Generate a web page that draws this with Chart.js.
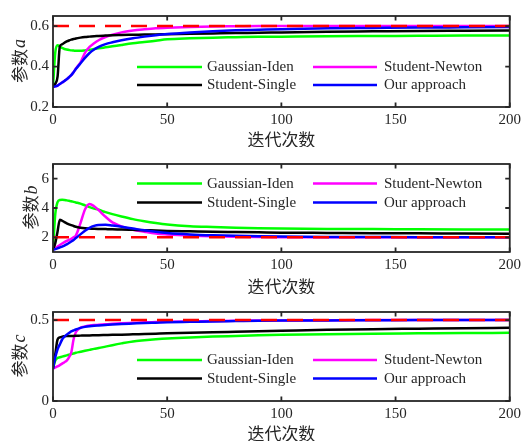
<!DOCTYPE html>
<html>
<head>
<meta charset="utf-8">
<script src="https://cdn.jsdelivr.net/npm/chart.js@4.4.1/dist/chart.umd.min.js"></script>
<style>
  html, body { margin: 0; padding: 0; background: #ffffff; }
  #wrap { position: relative; width: 525px; height: 441px; }
  .panel { position: absolute; left: 0; width: 525px; height: 147px; }
</style>
</head>
<body>
<div id="wrap">
  <div class="panel" style="top:0px"><canvas id="chartA" width="525" height="147"></canvas></div>
  <div class="panel" style="top:147px"><canvas id="chartB" width="525" height="147"></canvas></div>
  <div class="panel" style="top:294px"><canvas id="chartC" width="525" height="147"></canvas></div>
</div>
<script>
// Iteration numbers at which the estimates are listed
const iters = [0, 1, 2, 3, 4, 5, 6, 7, 8, 9, 10, 12, 14, 16, 18, 20, 23, 26, 30, 35, 40, 45, 50, 60, 70, 80, 90, 100, 120, 140, 160, 180, 200];

// Method names (legend order)
const methods = ['Gaussian-Iden', 'Student-Newton', 'Student-Single', 'Our approach'];

// Parameter a
const gaussA  = [0.30, 0.47, 0.505, 0.50, 0.492, 0.487, 0.484, 0.482, 0.480, 0.479, 0.478, 0.478, 0.480, 0.483, 0.487, 0.490, 0.495, 0.500, 0.507, 0.515, 0.521, 0.528, 0.535, 0.540, 0.543, 0.545, 0.547, 0.548, 0.550, 0.551, 0.552, 0.553, 0.553];
const newtonA = [0.30, 0.302, 0.306, 0.314, 0.321, 0.329, 0.337, 0.347, 0.358, 0.372, 0.390, 0.420, 0.468, 0.497, 0.515, 0.530, 0.546, 0.557, 0.569, 0.578, 0.584, 0.589, 0.592, 0.596, 0.598, 0.599, 0.600, 0.600, 0.601, 0.601, 0.601, 0.601, 0.601];
const singleA = [0.30, 0.315, 0.35, 0.50, 0.510, 0.518, 0.524, 0.529, 0.533, 0.536, 0.539, 0.543, 0.546, 0.548, 0.550, 0.551, 0.553, 0.555, 0.556, 0.557, 0.558, 0.559, 0.560, 0.562, 0.564, 0.566, 0.567, 0.569, 0.572, 0.574, 0.576, 0.577, 0.578];
const oursA   = [0.30, 0.302, 0.306, 0.314, 0.321, 0.329, 0.337, 0.347, 0.358, 0.372, 0.388, 0.415, 0.443, 0.467, 0.484, 0.497, 0.511, 0.520, 0.530, 0.540, 0.548, 0.555, 0.561, 0.569, 0.575, 0.579, 0.582, 0.585, 0.589, 0.591, 0.593, 0.594, 0.595];

// Parameter b
const gaussB  = [1.15, 3.6, 4.4, 4.55, 4.56, 4.55, 4.52, 4.49, 4.46, 4.42, 4.38, 4.30, 4.18, 4.06, 3.96, 3.88, 3.72, 3.58, 3.42, 3.24, 3.10, 2.98, 2.88, 2.76, 2.70, 2.65, 2.62, 2.60, 2.57, 2.56, 2.55, 2.54, 2.53];
const newtonB = [1.15, 1.26, 1.37, 1.48, 1.58, 1.67, 1.75, 1.82, 1.90, 2.00, 2.12, 2.95, 3.90, 4.27, 4.12, 3.85, 3.40, 3.02, 2.75, 2.52, 2.38, 2.26, 2.20, 2.12, 2.07, 2.04, 2.02, 2.01, 2.00, 2.00, 2.00, 2.00, 2.00];
const singleB = [1.15, 1.6, 2.4, 3.2, 3.13, 3.04, 2.96, 2.89, 2.83, 2.77, 2.72, 2.66, 2.62, 2.60, 2.58, 2.57, 2.56, 2.55, 2.53, 2.51, 2.49, 2.46, 2.44, 2.41, 2.38, 2.36, 2.34, 2.32, 2.30, 2.28, 2.27, 2.26, 2.25];
const oursB   = [1.15, 1.20, 1.25, 1.31, 1.37, 1.44, 1.52, 1.61, 1.71, 1.82, 1.95, 2.20, 2.45, 2.65, 2.78, 2.84, 2.85, 2.80, 2.72, 2.60, 2.48, 2.38, 2.30, 2.20, 2.14, 2.10, 2.07, 2.05, 2.03, 2.02, 2.01, 2.01, 2.00];

// Parameter c
const gaussC  = [0.20, 0.25, 0.266, 0.270, 0.274, 0.278, 0.282, 0.286, 0.290, 0.294, 0.298, 0.304, 0.310, 0.316, 0.322, 0.327, 0.336, 0.345, 0.356, 0.368, 0.375, 0.381, 0.386, 0.393, 0.398, 0.402, 0.406, 0.409, 0.413, 0.416, 0.418, 0.420, 0.421];
const newtonC = [0.20, 0.207, 0.214, 0.222, 0.231, 0.240, 0.250, 0.270, 0.300, 0.380, 0.425, 0.452, 0.461, 0.466, 0.469, 0.471, 0.474, 0.477, 0.480, 0.483, 0.486, 0.488, 0.490, 0.492, 0.494, 0.496, 0.497, 0.498, 0.499, 0.500, 0.500, 0.500, 0.500];
const singleC = [0.20, 0.29, 0.38, 0.393, 0.398, 0.400, 0.401, 0.401, 0.402, 0.402, 0.403, 0.404, 0.405, 0.405, 0.406, 0.407, 0.408, 0.409, 0.410, 0.412, 0.414, 0.416, 0.418, 0.421, 0.425, 0.428, 0.431, 0.434, 0.440, 0.444, 0.447, 0.450, 0.452];
const oursC   = [0.20, 0.27, 0.32, 0.35, 0.38, 0.397, 0.410, 0.420, 0.430, 0.436, 0.442, 0.452, 0.458, 0.462, 0.465, 0.467, 0.470, 0.473, 0.476, 0.479, 0.482, 0.484, 0.486, 0.489, 0.492, 0.494, 0.496, 0.497, 0.498, 0.499, 0.500, 0.500, 0.500];

// True parameter values (red dashed reference lines)
const trueA = 0.6, trueB = 2, trueC = 0.5;

// Axis ticks
const xTicks  = [0, 50, 100, 150, 200];
const yTicksA = [0.2, 0.4, 0.6];
const yTicksB = [2, 4, 6];
const yTicksC = [0, 0.5];

const SERIF = '"Liberation Serif", "Times New Roman", serif';
const CJK = '"Noto Sans CJK SC", "Noto Sans CJK JP", sans-serif';
const INK = '#262626';
const colors = ['#00FF00', '#FF00FF', '#000000', '#0000FF'];
const drawOrder = [4, 3, 2, 1]; // later series drawn above earlier ones

// Frame, inward tick marks, y-axis title and in-plot legend
const framePlugin = {
  id: 'framePlugin',
  afterDatasetsDraw(chart, args, opts) {
    const { ctx, chartArea: a, scales: { x, y } } = chart;
    ctx.save();
    ctx.strokeStyle = INK;
    ctx.lineWidth = 1.8;
    ctx.strokeRect(a.left, a.top, a.right - a.left, a.bottom - a.top);
    const len = 4.5;
    ctx.beginPath();
    x.ticks.forEach(t => {
      const px = x.getPixelForValue(t.value);
      ctx.moveTo(px, a.bottom); ctx.lineTo(px, a.bottom - len);
      ctx.moveTo(px, a.top); ctx.lineTo(px, a.top + len);
    });
    y.ticks.forEach(t => {
      const py = y.getPixelForValue(t.value);
      ctx.moveTo(a.left, py); ctx.lineTo(a.left + len, py);
      ctx.moveTo(a.right, py); ctx.lineTo(a.right - len, py);
    });
    ctx.stroke();

    // y-axis title: Chinese word plus italic symbol, rotated
    ctx.font = '15px ' + SERIF;
    let maxW = 0;
    y.ticks.forEach(t => { maxW = Math.max(maxW, ctx.measureText(t.label).width); });
    const cx = a.left - 4 - maxW - 10.5;
    const cy = (a.top + a.bottom) / 2;
    const f1 = '17px ' + CJK, f2 = 'italic 18px ' + SERIF;
    ctx.font = f1; const w1 = ctx.measureText(opts.yWord).width;
    ctx.font = f2; const w2 = ctx.measureText(opts.ySymbol).width;
    ctx.translate(cx, cy);
    ctx.rotate(-Math.PI / 2);
    ctx.fillStyle = INK;
    ctx.textBaseline = 'middle';
    ctx.textAlign = 'left';
    ctx.font = f1; ctx.fillText(opts.yWord, -(w1 + w2) / 2, 0);
    ctx.font = f2; ctx.fillText(opts.ySymbol, -(w1 + w2) / 2 + w1 + 1, 1);
    ctx.setTransform(1, 0, 0, 1, 0, 0);

    // legend: two columns, two rows
    const cols = [{ x0: 137, x1: 202, tx: 207 }, { x0: 313, x1: 377, tx: 384 }];
    ctx.font = '15px ' + SERIF;
    ctx.textBaseline = 'middle';
    ctx.lineWidth = 2.5;
    const series = chart.data.datasets.filter(d => d.inLegend);
    series.forEach((d, i) => {
      const c = cols[i % 2], ry = opts.rows[Math.floor(i / 2)];
      ctx.strokeStyle = d.borderColor;
      ctx.beginPath(); ctx.moveTo(c.x0, ry); ctx.lineTo(c.x1, ry); ctx.stroke();
      ctx.fillStyle = INK;
      ctx.fillText(d.label, c.tx, ry + 0.5);
    });
    ctx.restore();
  }
};

function buildDatasets(seriesVals, truth) {
  const ds = seriesVals.map((vals, i) => ({
    label: methods[i],
    inLegend: true,
    data: iters.map((it, k) => ({ x: it, y: vals[k] })),
    borderColor: colors[i],
    borderWidth: 2.5,
    order: drawOrder[i]
  }));
  ds.push({
    label: 'true',
    inLegend: false,
    data: [{ x: iters[0], y: truth }, { x: iters[iters.length - 1], y: truth }],
    borderColor: '#FF0000',
    borderWidth: 2.5,
    borderDash: [16, 10],
    order: 0
  });
  return ds;
}

function makeChart(id, cfg) {
  return new Chart(document.getElementById(id), {
    type: 'line',
    data: { datasets: buildDatasets(cfg.series, cfg.truth) },
    options: {
      responsive: false,
      animation: false,
      events: [],
      layout: { padding: { top: cfg.top, right: 12, left: 0, bottom: 0 } },
      elements: { point: { radius: 0 }, line: { cubicInterpolationMode: 'monotone', borderCapStyle: 'butt' } },
      plugins: {
        legend: { display: false },
        tooltip: { enabled: false },
        framePlugin: { yWord: '参数', ySymbol: cfg.symbol, rows: cfg.rows }
      },
      scales: {
        x: {
          type: 'linear', min: 0, max: 200,
          grid: { display: false, drawTicks: false },
          border: { display: false },
          afterBuildTicks: s => { s.ticks = xTicks.map(v => ({ value: v })); },
          afterFit: s => { s.height = 147 - cfg.bottom; },
          ticks: { font: { family: SERIF, size: 15 }, color: INK, padding: 4, maxRotation: 0 },
          title: { display: true, text: '迭代次数', color: INK, font: { family: CJK, size: 17, lineHeight: '14px' }, padding: { top: 0, bottom: 0 } }
        },
        y: {
          type: 'linear', min: cfg.ymin, max: cfg.ymax,
          grid: { display: false, drawTicks: false },
          border: { display: false },
          afterBuildTicks: s => { s.ticks = cfg.yTicks.map(v => ({ value: v })); },
          afterFit: s => { s.width = 53; },
          ticks: { font: { family: SERIF, size: 15 }, color: INK, padding: 4 }
        }
      }
    },
    plugins: [framePlugin]
  });
}

makeChart('chartA', { series: [gaussA, newtonA, singleA, oursA], truth: trueA, ymin: 0.2, ymax: 0.65, yTicks: yTicksA, symbol: 'a', top: 16, bottom: 107, rows: [67, 85] });
makeChart('chartB', { series: [gaussB, newtonB, singleB, oursB], truth: trueB, ymin: 1, ymax: 7, yTicks: yTicksB, symbol: 'b', top: 17, bottom: 105, rows: [36.5, 55.5] });
makeChart('chartC', { series: [gaussC, newtonC, singleC, oursC], truth: trueC, ymin: 0, ymax: 0.55, yTicks: yTicksC, symbol: 'c', top: 18, bottom: 107, rows: [66, 84.5] });
</script>
</body>
</html>
